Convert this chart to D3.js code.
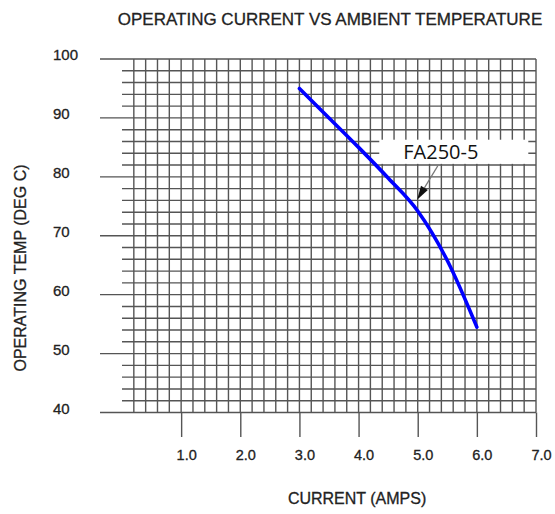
<!DOCTYPE html>
<html>
<head>
<meta charset="utf-8">
<script src="https://cdn.jsdelivr.net/npm/d3@7"></script>
<style>
  html, body { margin: 0; padding: 0; background: #fff; }
  svg { display: block; }
</style>
</head>
<body>
<svg id="chart" width="555" height="514"></svg>
<script>
// ---- chart content ----
const chartTitle = "OPERATING CURRENT VS AMBIENT TEMPERATURE";
const xAxisTitle = "CURRENT (AMPS)";
const yAxisTitle = "OPERATING TEMP (DEG C)";

const currentTicks = [1, 2, 3, 4, 5, 6, 7];
const currentTickLabels = ["1.0", "2.0", "3.0", "4.0", "5.0", "6.0", "7.0"];
const tempTicks = [40, 50, 60, 70, 80, 90, 100];
const tempTickLabels = ["40", "50", "60", "70", "80", "90", "100"];

// FA250-5 derating curve
const seriesName = "FA250-5";
const currentAmps = [3.0, 3.5, 4.0, 4.5, 5.0, 5.5, 6.0];
const operatingTemp = [95, 90, 85, 79.8, 74.2, 65.8, 54.5];

// callout: arrow tip [amps, degC] and label box corners [amps, degC]
const calloutTip = [4.99, 76.1];
const calloutBox = [[4.35, 86.3], [6.87, 82.2]];

// ---- layout ----
const svg = d3.select("#chart");
const font = "'Liberation Sans', Arial, sans-serif";
const ink = "#222";
const gridColor = "#555";

const x = d3.scaleLinear().domain([0, 7]).range([122, 536]);
const y = d3.scaleLinear().domain([40, 100]).range([412.5, 59]);

const minorX = d3.range(1, 36).map(i => +(i * 0.2).toFixed(1));   // 0.2 .. 7.0
const minorY = d3.range(0, 31).map(i => 40 + i * 2);              // 40 .. 100

const grid = svg.append("g").attr("stroke", gridColor).attr("stroke-width", 1.4);

// horizontal rules: every 2 degC, majors reach further left
grid.selectAll("line.h").data(minorY).join("line")
  .attr("class", "h")
  .attr("x1", d => d % 10 === 0 ? x(0) - 22 : x(0))
  .attr("x2", x(7))
  .attr("y1", d => y(d)).attr("y2", d => y(d));

// vertical rules: every 0.2 A
grid.selectAll("line.v").data(minorX).join("line")
  .attr("class", "v")
  .attr("x1", d => x(d)).attr("x2", d => x(d))
  .attr("y1", y(100)).attr("y2", y(40));

// bottom axis: long ticks below the grid at whole amps
const xAxis = svg.append("g")
  .attr("transform", `translate(0,${y(40)})`)
  .call(d3.axisBottom(x)
    .tickValues(currentTicks)
    .tickFormat((d, i) => currentTickLabels[i])
    .tickSize(24.5)
    .tickPadding(10));
xAxis.select(".domain").remove();
xAxis.selectAll(".tick line").attr("stroke", gridColor).attr("stroke-width", 1.4);
xAxis.selectAll(".tick text")
  .attr("x", 5)
  .attr("dy", null)
  .attr("y", 47.5)
  .attr("fill", ink)
  .attr("stroke", ink).attr("stroke-width", 0.3)
  .style("font", `14.5px ${font}`);

// left axis labels, left aligned
const yAxis = svg.append("g")
  .attr("transform", `translate(${x(0) - 22},0)`)
  .call(d3.axisLeft(y)
    .tickValues(tempTicks)
    .tickFormat((d, i) => tempTickLabels[i])
    .tickSize(0));
yAxis.select(".domain").remove();
yAxis.selectAll(".tick text")
  .attr("text-anchor", "start")
  .attr("x", 53 - (x(0) - 22))
  .attr("dy", "0.0em")
  .attr("y", 0.5)
  .attr("fill", ink)
  .attr("stroke", ink).attr("stroke-width", 0.3)
  .style("font", `15px ${font}`);

// curve
const line = d3.line()
  .x(d => x(d[0]))
  .y(d => y(d[1]))
  .curve(d3.curveMonotoneX);
svg.append("path")
  .datum(currentAmps.map((c, i) => [c, operatingTemp[i]]))
  .attr("d", line)
  .attr("fill", "none")
  .attr("stroke", "#0000ff")
  .attr("stroke-width", 3.6)
  .attr("stroke-linecap", "round");

// callout box and label
const bx0 = x(calloutBox[0][0]), by0 = y(calloutBox[0][1]);
const bx1 = x(calloutBox[1][0]), by1 = y(calloutBox[1][1]);
svg.append("rect")
  .attr("x", bx0).attr("y", by0)
  .attr("width", bx1 - bx0).attr("height", by1 - by0)
  .attr("fill", "#fff");
svg.append("text")
  .attr("x", bx0 + 24).attr("y", by1 - 5)
  .attr("fill", "#111")
  .style("font", "20px 'Open Sans', 'Noto Sans', sans-serif")
  .text(seriesName);

// callout arrow
const sx = bx0 + 58.5, sy = by1 + 2;
const tx = x(calloutTip[0]), ty = y(calloutTip[1]);
const ang = Math.atan2(ty - sy, tx - sx);
const headLen = 14, headHalf = 4;
const bxh = tx - headLen * Math.cos(ang), byh = ty - headLen * Math.sin(ang);
svg.append("line")
  .attr("x1", sx).attr("y1", sy).attr("x2", bxh).attr("y2", byh)
  .attr("stroke", "#777").attr("stroke-width", 1.2);
svg.append("path")
  .attr("d", d3.line()([
    [tx, ty],
    [bxh + headHalf * Math.sin(ang), byh - headHalf * Math.cos(ang)],
    [bxh - headHalf * Math.sin(ang), byh + headHalf * Math.cos(ang)]
  ]) + "Z")
  .attr("fill", "#111");

// titles
const titleStyle = sel => sel
  .attr("text-anchor", "middle")
  .attr("fill", ink)
  .attr("stroke", ink).attr("stroke-width", 0.3)
  .style("font", `17px ${font}`);

svg.append("text")
  .attr("x", 330).attr("y", 24.5)
  .call(titleStyle)
  .text(chartTitle);

svg.append("text")
  .attr("x", x(4) - 1.5).attr("y", 504)
  .call(titleStyle)
  .style("font-size", "16px")
  .text(xAxisTitle);

svg.append("text")
  .attr("transform", `translate(26,268) rotate(-90)`)
  .call(titleStyle)
  .style("font-size", "16px")
  .text(yAxisTitle);
</script>
</body>
</html>
